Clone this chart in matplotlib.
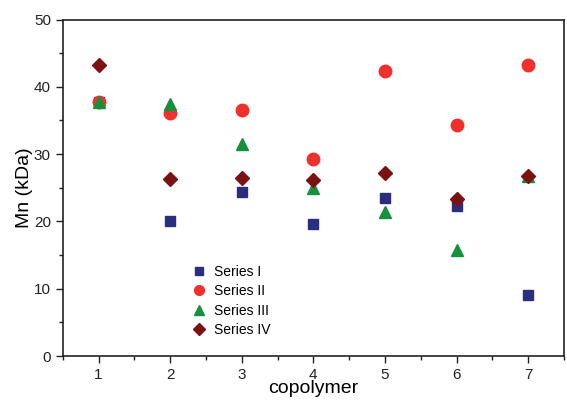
import matplotlib.pyplot as plt
from matplotlib.ticker import MultipleLocator

plt.rcParams['font.family'] = ['Liberation Sans', 'DejaVu Sans']

copolymer = [1, 2, 3, 4, 5, 6, 7]
series_1 = [37.7, 20.0, 24.4, 19.6, 23.5, 22.3, 9.0]
series_2 = [37.8, 36.1, 36.6, 29.3, 42.3, 34.3, 43.2]
series_3 = [37.8, 37.5, 31.5, 24.9, 21.4, 15.7, 26.7]
series_4 = [43.2, 26.3, 26.5, 26.1, 27.2, 23.3, 26.8]

fig = plt.figure(figsize=(5.67, 4.03), dpi=100)
ax = fig.add_axes([0.1106, 0.1166, 0.884, 0.835])

ax.plot(copolymer, series_1, 's', color='#2b2d7f', markersize=7.5, label='Series I', zorder=2)
ax.plot(copolymer, series_2, 'o', color='#f0302c', markersize=9, label='Series II', zorder=3)
ax.plot(copolymer, series_3, '^', color='#15913e', markersize=9, label='Series III', zorder=4)
ax.plot(copolymer, series_4, 'D', color='#7a1214', markersize=7.5, label='Series IV', zorder=5)

ax.set_xlim(0.5, 7.5)
ax.set_ylim(0, 50)
ax.xaxis.set_major_locator(MultipleLocator(1))
ax.xaxis.set_minor_locator(MultipleLocator(0.5))
ax.yaxis.set_major_locator(MultipleLocator(10))
ax.yaxis.set_minor_locator(MultipleLocator(5))
ax.tick_params(which='major', direction='out', length=5, width=1, labelsize=11, colors='#222222')
ax.tick_params(which='minor', direction='out', length=3, width=1, colors='#222222')
for s in ax.spines.values():
    s.set_linewidth(1.2)
    s.set_color('#222222')

ax.set_xlabel('copolymer', fontsize=14, labelpad=-1)
ax.set_ylabel('Mn (kDa)', fontsize=14, labelpad=1)

ax.legend(loc='lower left', bbox_to_anchor=(0.23, 0.02), frameon=False, fontsize=10,
          handletextpad=0.5, labelspacing=0.38, handlelength=1.2, markerscale=0.78)

fig.savefig('out.png', dpi=100)
